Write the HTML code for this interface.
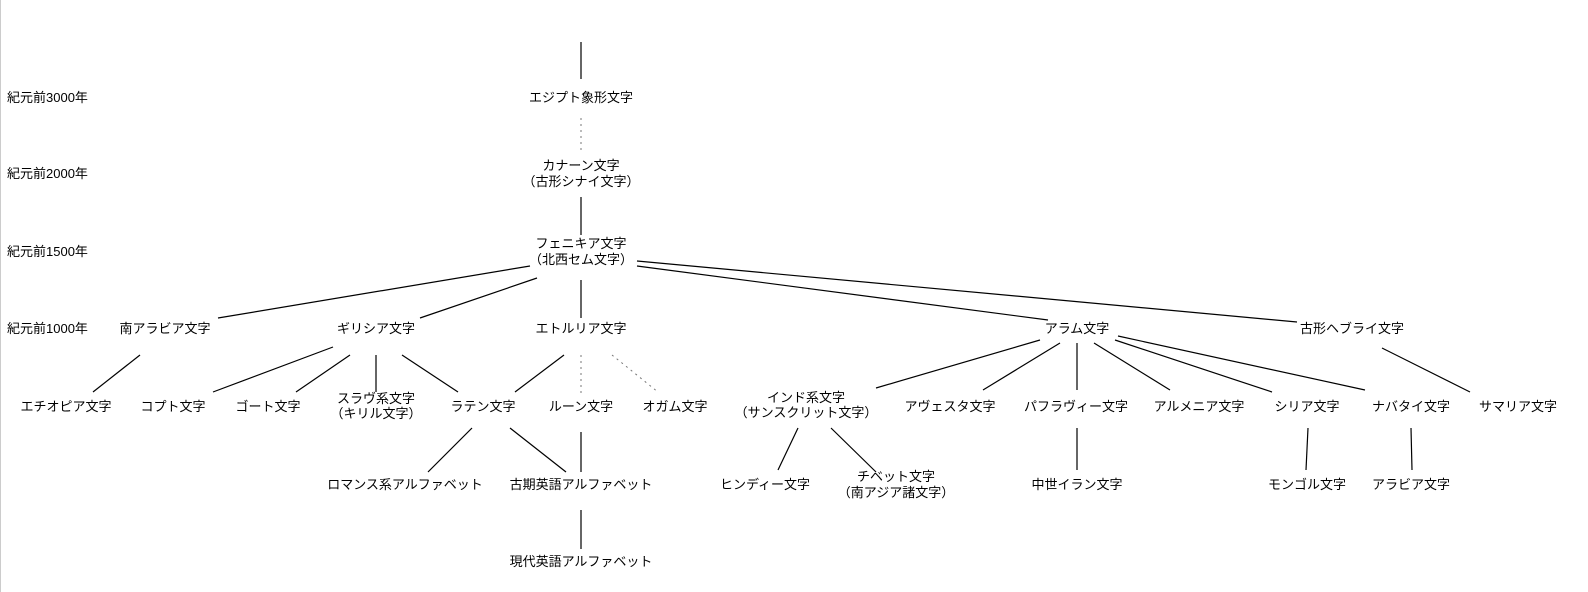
<!DOCTYPE html>
<html><head><meta charset="utf-8"><style>
html,body{margin:0;padding:0;background:#fff;}
svg{display:block;}
text{font-family:"Liberation Sans","Noto Sans CJK JP",sans-serif;font-size:13px;fill:#000;}
</style></head><body>
<svg width="1588" height="592" viewBox="0 0 1588 592" xmlns="http://www.w3.org/2000/svg">
<line x1="0.5" y1="0" x2="0.5" y2="592" stroke="#ccc" stroke-width="1"/>
<g stroke="#000" stroke-width="1.2" fill="none">
<line x1="581" y1="42" x2="581" y2="79"/>
<line x1="581" y1="197" x2="581" y2="235"/>
<line x1="530" y1="266" x2="218" y2="318"/>
<line x1="537" y1="278" x2="420" y2="318"/>
<line x1="581" y1="280" x2="581" y2="318"/>
<line x1="637" y1="266" x2="1048" y2="320"/>
<line x1="637" y1="261" x2="1297" y2="322"/>
<line x1="140" y1="355" x2="93" y2="392"/>
<line x1="333" y1="347" x2="213" y2="392"/>
<line x1="350" y1="355" x2="296" y2="392"/>
<line x1="376" y1="355" x2="376" y2="392"/>
<line x1="402" y1="355" x2="458" y2="392"/>
<line x1="564" y1="355" x2="515" y2="392"/>
<line x1="472" y1="428" x2="428" y2="472"/>
<line x1="510" y1="428" x2="566" y2="472"/>
<line x1="581" y1="432" x2="581" y2="472"/>
<line x1="581" y1="510" x2="581" y2="549"/>
<line x1="1040" y1="340" x2="876" y2="388"/>
<line x1="1060" y1="343" x2="983" y2="390"/>
<line x1="1077" y1="343" x2="1077" y2="390"/>
<line x1="1094" y1="343" x2="1170" y2="390"/>
<line x1="1115" y1="340" x2="1272" y2="392"/>
<line x1="1118" y1="336" x2="1365" y2="390"/>
<line x1="1382" y1="348" x2="1470" y2="392"/>
<line x1="798" y1="428" x2="778" y2="470"/>
<line x1="831" y1="428" x2="876" y2="472"/>
<line x1="1077" y1="428" x2="1077" y2="470"/>
<line x1="1308" y1="428" x2="1306" y2="470"/>
<line x1="1411" y1="428" x2="1412" y2="470"/>
</g>
<g stroke="#777" stroke-width="1" stroke-dasharray="2,4" fill="none">
<line x1="581" y1="118" x2="581" y2="152"/>
<line x1="581" y1="355" x2="581" y2="393"/>
<line x1="612" y1="355" x2="658" y2="392"/>
</g>
<g>
<text x="7" y="102">紀元前3000年</text>
<text x="7" y="178">紀元前2000年</text>
<text x="7" y="256">紀元前1500年</text>
<text x="7" y="333">紀元前1000年</text>
</g>
<g text-anchor="middle">
<text x="581" y="102">エジプト象形文字</text>
<text x="581" y="170">カナーン文字</text>
<text x="581" y="186">（古形シナイ文字）</text>
<text x="581" y="248">フェニキア文字</text>
<text x="581" y="264">（北西セム文字）</text>
<text x="165" y="333">南アラビア文字</text>
<text x="376" y="333">ギリシア文字</text>
<text x="581" y="333">エトルリア文字</text>
<text x="1077" y="333">アラム文字</text>
<text x="1352" y="333">古形ヘブライ文字</text>
<text x="66" y="411">エチオピア文字</text>
<text x="173" y="411">コプト文字</text>
<text x="268" y="411">ゴート文字</text>
<text x="376" y="403">スラヴ系文字</text>
<text x="376" y="418">（キリル文字）</text>
<text x="483" y="411">ラテン文字</text>
<text x="581" y="411">ルーン文字</text>
<text x="675" y="411">オガム文字</text>
<text x="806" y="402">インド系文字</text>
<text x="806" y="417">（サンスクリット文字）</text>
<text x="950" y="411">アヴェスタ文字</text>
<text x="1076" y="411">パフラヴィー文字</text>
<text x="1199" y="411">アルメニア文字</text>
<text x="1307" y="411">シリア文字</text>
<text x="1411" y="411">ナバタイ文字</text>
<text x="1518" y="411">サマリア文字</text>
<text x="405" y="489">ロマンス系アルファベット</text>
<text x="581" y="489">古期英語アルファベット</text>
<text x="765" y="489">ヒンディー文字</text>
<text x="896" y="481">チベット文字</text>
<text x="896" y="497">（南アジア諸文字）</text>
<text x="1077" y="489">中世イラン文字</text>
<text x="1307" y="489">モンゴル文字</text>
<text x="1411" y="489">アラビア文字</text>
<text x="581" y="566">現代英語アルファベット</text>
</g>
</svg>
</body></html>
